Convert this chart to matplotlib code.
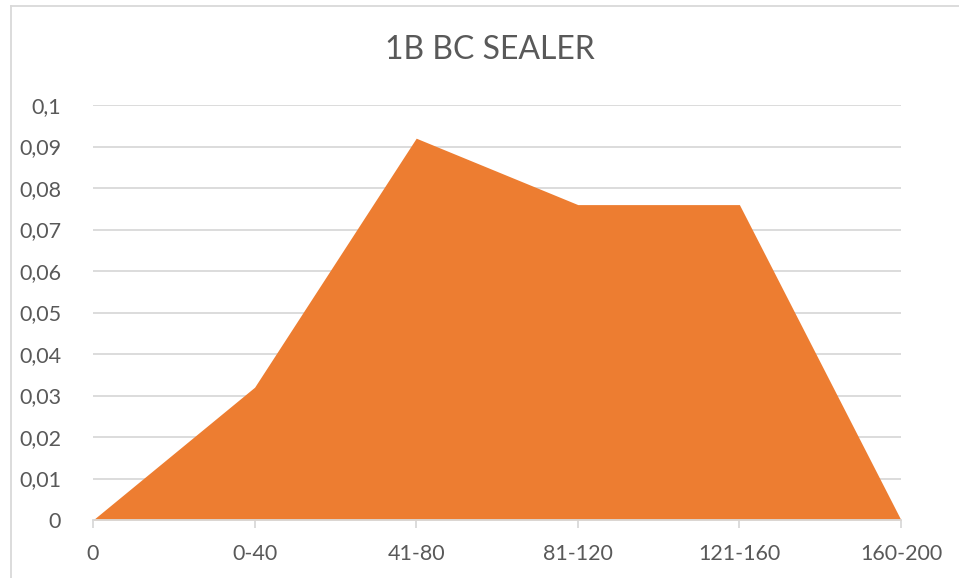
import matplotlib
matplotlib.use("Agg")
import matplotlib.pyplot as plt
from matplotlib.lines import Line2D

# data
categories = ['0', '0-40', '41-80', '81-120', '121-160', '160-200']
values = [0, 0.032, 0.092, 0.076, 0.076, 0]
y_ticks = [0, 0.01, 0.02, 0.03, 0.04, 0.05, 0.06, 0.07, 0.08, 0.09, 0.1]
y_labels = ['0', '0,01', '0,02', '0,03', '0,04', '0,05', '0,06', '0,07', '0,08', '0,09', '0,1']
title = '1B BC SEALER'

plt.rcParams['font.family'] = ['Lato', 'DejaVu Sans']
text_col = '#595959'
grid_col = '#D9D9D9'

fig = plt.figure(figsize=(9.59, 5.78), dpi=100)
ax = fig.add_axes([93/959, 1-520/578, (901-93)/959, (520-105)/578])

x = list(range(len(categories)))
ax.fill_between(x, values, 0, color='#ED7D31', linewidth=0, zorder=3)

ax.set_xlim(0, len(categories)-1)
ax.set_ylim(0, 0.1)
ax.set_yticks(y_ticks)
ax.set_yticklabels(y_labels)
ax.set_xticks(x)
ax.set_xticklabels(categories)

# gridlines behind the area
ax.yaxis.grid(True, color=grid_col, linewidth=1.3, zorder=0)
ax.set_axisbelow(True)
for s in ['top', 'right', 'left']:
    ax.spines[s].set_visible(False)
ax.spines['bottom'].set_color(grid_col)
ax.spines['bottom'].set_linewidth(1.3)
ax.spines['bottom'].set_zorder(4)

ax.tick_params(axis='y', length=0, pad=23, labelsize=15.5, labelcolor=text_col)
ax.tick_params(axis='x', length=6, width=1.3, color=grid_col, pad=11,
               labelsize=15.5, labelcolor=text_col)

fig.text(490/959, 1-50/578, title, ha='center', va='center',
         fontsize=23, color=text_col)

# chart border (only top and left are visible in the crop)
fig.add_artist(Line2D([10.5/959, 10.5/959], [0, 1-6/578], transform=fig.transFigure,
                      color=grid_col, linewidth=1.3))
fig.add_artist(Line2D([10.5/959, 1], [1-6/578, 1-6/578], transform=fig.transFigure,
                      color=grid_col, linewidth=1.3))

fig.savefig('out.png', dpi=100)
